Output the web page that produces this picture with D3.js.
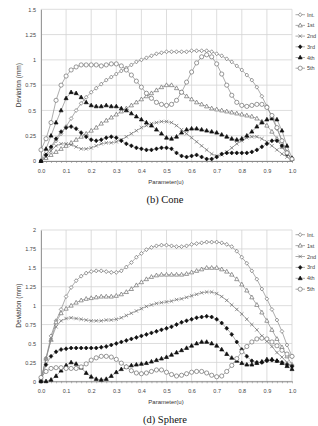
<!DOCTYPE html>
<html>
<head>
<meta charset="utf-8">
<script src="https://cdn.jsdelivr.net/npm/d3@7"></script>
<style>
body { margin: 0; background: #fff; }
svg { display: block; }
</style>
</head>
<body>
<div id="canvas"></div>
<script>
"use strict"

let svgWidth = 318
let svgHeight = 426

/* Data */
let seriesNames = ["Int.", "1st", "2nd", "3rd", "4th", "5th"]
let params = [0.00, 0.02, 0.04, 0.06, 0.08, 0.10, 0.12, 0.14, 0.16, 0.18,
    0.20, 0.22, 0.24, 0.26, 0.28, 0.30, 0.32, 0.34, 0.36, 0.38,
    0.40, 0.42, 0.44, 0.46, 0.48, 0.50, 0.52, 0.54, 0.56, 0.58,
    0.60, 0.62, 0.64, 0.66, 0.68, 0.70, 0.72, 0.74, 0.76, 0.78,
    0.80, 0.82, 0.84, 0.86, 0.88, 0.90, 0.92, 0.94, 0.96, 0.98, 1.00]
let xTicks = [0, 0.1, 0.2, 0.3, 0.4, 0.5, 0.6, 0.7, 0.8, 0.9, 1.0]
let coneTicks = [0, 0.25, 0.5, 0.75, 1, 1.25, 1.5]
let sphereTicks = [0, 0.25, 0.5, 0.75, 1, 1.25, 1.5, 1.75, 2]

/* (b) Cone */
let coneInt = [0, 0.06, 0.13, 0.2, 0.27, 0.34, 0.42, 0.5, 0.57, 0.63,
    0.68, 0.72, 0.76, 0.8, 0.83, 0.86, 0.89, 0.92, 0.95, 0.98,
    1.0, 1.02, 1.04, 1.06, 1.07, 1.08, 1.08, 1.08, 1.08, 1.08,
    1.09, 1.09, 1.09, 1.09, 1.08, 1.06, 1.04, 1.01, 0.98, 0.94,
    0.9, 0.85, 0.8, 0.73, 0.64, 0.54, 0.43, 0.32, 0.2, 0.09, 0.01]
let cone1st = [0, 0.03, 0.06, 0.09, 0.12, 0.15, 0.18, 0.21, 0.24, 0.27,
    0.3, 0.33, 0.37, 0.4, 0.43, 0.46, 0.49, 0.52, 0.55, 0.58,
    0.61, 0.64, 0.67, 0.7, 0.73, 0.75, 0.75, 0.72, 0.68, 0.64,
    0.61, 0.58, 0.56, 0.54, 0.52, 0.51, 0.5, 0.49, 0.48, 0.47,
    0.46, 0.45, 0.44, 0.42, 0.39, 0.35, 0.29, 0.22, 0.14, 0.07, 0.02]
let cone2nd = [0, 0.04, 0.1, 0.15, 0.17, 0.17, 0.16, 0.14, 0.12, 0.12,
    0.13, 0.15, 0.17, 0.18, 0.18, 0.19, 0.21, 0.24, 0.27, 0.3,
    0.33, 0.35, 0.37, 0.38, 0.39, 0.39, 0.38, 0.35, 0.31, 0.27,
    0.23, 0.19, 0.15, 0.11, 0.07, 0.05, 0.06, 0.09, 0.13, 0.17,
    0.2, 0.23, 0.24, 0.24, 0.22, 0.19, 0.15, 0.11, 0.07, 0.04, 0.02]
let cone3rd = [0, 0.06, 0.14, 0.22, 0.29, 0.33, 0.34, 0.32, 0.28, 0.24,
    0.21, 0.2, 0.21, 0.23, 0.24, 0.23, 0.2, 0.17, 0.15, 0.13,
    0.12, 0.11, 0.11, 0.12, 0.13, 0.13, 0.12, 0.08, 0.05, 0.04,
    0.05, 0.06, 0.04, 0.02, 0.02, 0.04, 0.07, 0.08, 0.08, 0.08,
    0.08, 0.08, 0.09, 0.11, 0.14, 0.17, 0.2, 0.2, 0.15, 0.07, 0.02]
let cone4th = [0, 0.12, 0.25, 0.38, 0.5, 0.62, 0.68, 0.67, 0.63, 0.58,
    0.55, 0.54, 0.54, 0.55, 0.54, 0.54, 0.52, 0.5, 0.47, 0.44,
    0.41, 0.38, 0.35, 0.31, 0.27, 0.23, 0.22, 0.24, 0.28, 0.31,
    0.32, 0.32, 0.31, 0.3, 0.29, 0.28, 0.26, 0.24, 0.22, 0.21,
    0.22, 0.25, 0.29, 0.34, 0.38, 0.41, 0.42, 0.41, 0.3, 0.15, 0.03]
let cone5th = [0.11, 0.22, 0.38, 0.6, 0.75, 0.84, 0.9, 0.93, 0.95, 0.95,
    0.95, 0.95, 0.94, 0.95, 0.96, 0.96, 0.94, 0.9, 0.85, 0.79,
    0.73, 0.67, 0.62, 0.58, 0.56, 0.55, 0.56, 0.6, 0.68, 0.78,
    0.88, 0.97, 1.03, 1.05, 1.03, 0.96, 0.86, 0.75, 0.65, 0.58,
    0.55, 0.54, 0.55, 0.56, 0.56, 0.53, 0.45, 0.33, 0.2, 0.08, 0.02]

/* (d) Sphere */
let sphereInt = [0.02, 0.3, 0.6, 0.8, 0.95, 1.12, 1.24, 1.33, 1.39, 1.43,
    1.45, 1.46, 1.46, 1.45, 1.44, 1.44, 1.46, 1.51, 1.57, 1.64,
    1.69, 1.74, 1.77, 1.79, 1.8, 1.8, 1.79, 1.78, 1.78, 1.79,
    1.81, 1.82, 1.83, 1.84, 1.84, 1.84, 1.83, 1.81, 1.78, 1.72,
    1.64, 1.56, 1.46, 1.35, 1.22, 1.09, 0.95, 0.81, 0.66, 0.48, 0.33]
let sphere1st = [0.02, 0.3, 0.55, 0.78, 0.9, 0.96, 1.0, 1.04, 1.07, 1.09,
    1.1, 1.11, 1.12, 1.12, 1.12, 1.13, 1.15, 1.18, 1.22, 1.27,
    1.31, 1.35, 1.38, 1.4, 1.41, 1.41, 1.41, 1.41, 1.41, 1.42,
    1.44, 1.46, 1.48, 1.5, 1.5, 1.5, 1.48, 1.45, 1.41, 1.35,
    1.28, 1.2, 1.11, 1.01, 0.91, 0.8, 0.68, 0.56, 0.45, 0.33, 0.22]
let sphere2nd = [0.02, 0.3, 0.55, 0.72, 0.8, 0.83, 0.84, 0.83, 0.82, 0.81,
    0.8, 0.8, 0.8, 0.81, 0.81, 0.82, 0.84, 0.87, 0.9, 0.93,
    0.96, 0.99, 1.01, 1.03, 1.04, 1.05, 1.06, 1.08, 1.09, 1.11,
    1.13, 1.15, 1.17, 1.18, 1.18, 1.16, 1.12, 1.07, 1.01, 0.95,
    0.89, 0.82, 0.75, 0.68, 0.6, 0.53, 0.46, 0.38, 0.32, 0.25, 0.2]
let sphere3rd = [0, 0.22, 0.33, 0.39, 0.42, 0.43, 0.44, 0.44, 0.44, 0.44,
    0.44, 0.44, 0.45, 0.46, 0.48, 0.5, 0.52, 0.54, 0.56, 0.58,
    0.6, 0.62, 0.64, 0.66, 0.68, 0.7, 0.72, 0.75, 0.78, 0.8,
    0.82, 0.84, 0.85, 0.86, 0.85, 0.82, 0.77, 0.7, 0.62, 0.52,
    0.42, 0.33, 0.27, 0.25, 0.25, 0.27, 0.28, 0.27, 0.25, 0.22, 0.2]
let sphere4th = [0, 0, 0.02, 0.07, 0.14, 0.21, 0.25, 0.23, 0.18, 0.11,
    0.06, 0.03, 0.02, 0.03, 0.07, 0.12, 0.16, 0.19, 0.21, 0.22,
    0.23, 0.24, 0.26, 0.28, 0.3, 0.32, 0.35, 0.38, 0.41, 0.44,
    0.47, 0.5, 0.52, 0.52, 0.5, 0.47, 0.42, 0.36, 0.31, 0.27,
    0.24, 0.22, 0.22, 0.24, 0.26, 0.29, 0.29, 0.27, 0.24, 0.2, 0.16]
let sphere5th = [0.05, 0.13, 0.17, 0.18, 0.18, 0.17, 0.17, 0.17, 0.19, 0.23,
    0.28, 0.31, 0.33, 0.33, 0.32, 0.29, 0.24, 0.19, 0.14, 0.11,
    0.1, 0.11, 0.13, 0.15, 0.15, 0.12, 0.09, 0.07, 0.08, 0.1,
    0.12, 0.13, 0.13, 0.11, 0.08, 0.06, 0.07, 0.13, 0.21, 0.3,
    0.39, 0.46, 0.52, 0.56, 0.57, 0.56, 0.52, 0.47, 0.41, 0.36, 0.33]

/* Create drawing canvas */
let svg = d3.select("#canvas")
    .append("svg")
    .attr("width", svgWidth)
    .attr("height", svgHeight)

let sansFont = "'Liberation Sans', Arial, sans-serif"
let lineColor = "#8a8a8a"
let markColor = "#6e6e6e"

/* marker shapes for Int., 1st ... 5th */
function markerPath(i) {
    if (i === 0) return "M0,-2L1.8,0L0,2L-1.8,0Z"            /* open diamond */
    if (i === 1) return "M0,-2.3L2.1,1.5L-2.1,1.5Z"          /* open triangle */
    if (i === 2) return "M-1.7,-1.7L1.7,1.7M-1.7,1.7L1.7,-1.7" /* x */
    if (i === 3) return "M0,-2L1.8,0L0,2L-1.8,0Z"            /* filled diamond */
    if (i === 4) return "M0,-2.2L2,1.4L-2,1.4Z"              /* filled triangle */
    return null                                               /* circle */
}

function drawMarker(g, i, x, y) {
    if (i === 5) {
        g.append("circle")
            .attr("cx", x).attr("cy", y).attr("r", 2.1)
            .attr("fill", "#fff")
            .attr("stroke", markColor)
            .attr("stroke-width", 0.7)
        return
    }
    let filled = (i === 3 || i === 4)
    g.append("path")
        .attr("d", markerPath(i))
        .attr("transform", `translate(${x},${y})`)
        .attr("fill", filled ? "#111" : (i === 2 ? "none" : "#fff"))
        .attr("stroke", filled ? "#111" : markColor)
        .attr("stroke-width", 0.7)
}

function drawPanel(p) {
    let xScale = d3.scaleLinear().domain([0, 1]).range([41, 292])
    let yScale = d3.scaleLinear().domain([0, p.max]).range([p.bottom, p.top])
    let g = svg.append("g")

    /* gridlines */
    g.selectAll("line.vgrid")
        .data(xTicks)
        .join("line")
        .attr("x1", d => xScale(d)).attr("x2", d => xScale(d))
        .attr("y1", yScale(0)).attr("y2", yScale(p.max))
        .attr("stroke", "#d4d4d4").attr("stroke-width", 0.8)
    g.selectAll("line.hgrid")
        .data(p.ticks)
        .join("line")
        .attr("x1", xScale(0)).attr("x2", xScale(1))
        .attr("y1", d => yScale(d)).attr("y2", d => yScale(d))
        .attr("stroke", "#d4d4d4").attr("stroke-width", 0.8)

    /* y axis */
    let yAxis = g.append("g")
        .attr("transform", `translate(${xScale(0)},0)`)
        .call(d3.axisLeft(yScale).tickValues(p.ticks).tickSize(0).tickPadding(5)
            .tickFormat(d => String(d)))
    yAxis.select(".domain").attr("stroke", "#9a9a9a")
    yAxis.selectAll("text")
        .style("font-family", sansFont).style("font-size", "5.5px").attr("fill", "#444")

    /* x axis with small category ticks */
    let xAxis = g.append("g")
        .attr("transform", `translate(0,${yScale(0)})`)
        .call(d3.axisBottom(xScale).tickValues(params).tickSize(2).tickSizeOuter(0)
            .tickPadding(6).tickFormat(d => xTicks.some(t => Math.abs(t - d) < 1e-9) ? d3.format(".1f")(d) : ""))
    xAxis.select(".domain").attr("stroke", "#8a8a8a")
    xAxis.selectAll(".tick line").attr("stroke", "#8a8a8a").attr("stroke-width", 0.6)
    xAxis.selectAll("text")
        .style("font-family", sansFont).style("font-size", "5.5px").attr("fill", "#444")

    /* series */
    let line = d3.line()
        .x((d, k) => xScale(params[k]))
        .y(d => yScale(d))
    p.series.forEach(function (values, i) {
        g.append("path")
            .datum(values)
            .attr("d", line)
            .attr("fill", "none")
            .attr("stroke", lineColor)
            .attr("stroke-width", 0.7)
        values.forEach(function (v, k) {
            drawMarker(g, i, xScale(params[k]), yScale(v))
        })
    })

    /* legend */
    seriesNames.forEach(function (name, i) {
        let ly = p.legendY + i * p.legendStep
        g.append("line")
            .attr("x1", 295.5).attr("x2", 305)
            .attr("y1", ly).attr("y2", ly)
            .attr("stroke", lineColor).attr("stroke-width", 0.7)
        drawMarker(g, i, 300.2, ly)
        g.append("text")
            .attr("x", 307).attr("y", ly)
            .attr("dominant-baseline", "central")
            .style("font-family", sansFont).style("font-size", "5.5px")
            .attr("fill", "#444")
            .text(name)
    })

    /* axis titles */
    g.append("text")
        .attr("transform", `translate(18,${(p.top + p.bottom) / 2}) rotate(-90)`)
        .attr("text-anchor", "middle")
        .attr("dominant-baseline", "central")
        .style("font-family", sansFont).style("font-size", "6.5px")
        .attr("fill", "#333")
        .text("Deviation (mm)")
    g.append("text")
        .attr("x", 166).attr("y", p.bottom + 21)
        .attr("text-anchor", "middle")
        .attr("dominant-baseline", "central")
        .style("font-family", sansFont).style("font-size", "6px")
        .attr("fill", "#333")
        .text("Parameter(u)")

    /* caption */
    g.append("text")
        .attr("x", 165).attr("y", p.captionY)
        .attr("text-anchor", "middle")
        .attr("dominant-baseline", "central")
        .style("font-family", "'Liberation Serif', 'Times New Roman', serif")
        .style("font-size", "10.5px")
        .attr("fill", "#111")
        .text(p.caption)
}

drawPanel({
    top: 9.3, bottom: 161, max: 1.5, ticks: coneTicks,
    series: [coneInt, cone1st, cone2nd, cone3rd, cone4th, cone5th],
    legendY: 14.7, legendStep: 10.7, captionY: 199, caption: "(b) Cone"
})
drawPanel({
    top: 230, bottom: 381.3, max: 2, ticks: sphereTicks,
    series: [sphereInt, sphere1st, sphere2nd, sphere3rd, sphere4th, sphere5th],
    legendY: 234.7, legendStep: 10.9, captionY: 419, caption: "(d) Sphere"
})
</script>
</body>
</html>
